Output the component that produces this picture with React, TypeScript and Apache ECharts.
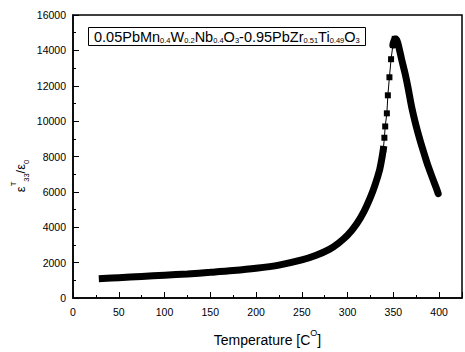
import React, { useEffect, useRef } from "react";
import * as echarts from "echarts";

// Temperature (°C) and permittivity readings, low-temperature thick section
const lowT = [32, 50, 75, 100, 125, 150, 175, 200, 225, 250, 265, 280, 290, 300, 310, 318, 325, 330, 335, 337.3, 339];
const lowE = [1100, 1150, 1220, 1290, 1360, 1450, 1550, 1680, 1860, 2150, 2400, 2750, 3100, 3550, 4200, 4900, 5700, 6400, 7250, 7850, 8400];
// sparse points on the steep rise
const riseT = [339, 340.2, 341.1, 342.9, 344, 345.7, 347.5, 349.5, 351.5];
const riseE = [8400, 9060, 9700, 10440, 11460, 12480, 13500, 14300, 14650];
// descending part above the peak
const fallT = [349.5, 351.5, 353, 355, 359, 363, 366, 370, 375, 379, 384, 388, 393, 397, 399];
const fallE = [14300, 14650, 14650, 14400, 13500, 12650, 11900, 10800, 9700, 8950, 8100, 7450, 6750, 6200, 5900];

const xTicks = [0, 50, 100, 150, 200, 250, 300, 350, 400];

const pair = (xs: number[], ys: number[]) => xs.map((x, i) => [x, ys[i]]);

const FONT = "Liberation Sans, Arial, sans-serif";

export default function App() {
  const ref = useRef<HTMLDivElement>(null);
  useEffect(() => {
    if (!ref.current) return;
    const chart = echarts.init(ref.current, undefined, { renderer: "svg" });
    chart.setOption({
      animation: false,
      backgroundColor: "#fff",
      grid: { left: 73, right: 2, top: 15, bottom: 49, show: true, borderColor: "#000", borderWidth: 1.5 },
      title: {
        left: 88,
        top: 23,
        padding: [2, 6, 2, 6],
        borderColor: "#000",
        borderWidth: 1,
        text: "{n|0.05PbMn}{s|0.4}{n|W}{s|0.2}{n|Nb}{s|0.4}{n|O}{s|3}{n|-0.95PbZr}{s|0.51}{n|Ti}{s|0.49}{n|O}{s|3}",
        textStyle: {
          fontWeight: "normal",
          rich: {
            n: { fontSize: 14.5, fontWeight: "normal", fontFamily: FONT, color: "#000", verticalAlign: "bottom", lineHeight: 19 },
            s: { fontSize: 7.5, fontWeight: "normal", fontFamily: FONT, color: "#000", verticalAlign: "bottom", lineHeight: 14 },
          },
        },
      },
      xAxis: {
        type: "value",
        min: 0,
        max: 425,
        interval: 50,
        name: "{n|Temperature [C}{p|O}{n|]}",
        nameLocation: "middle",
        nameGap: 30,
        nameTextStyle: {
          rich: {
            n: { fontSize: 14, fontFamily: FONT, color: "#000", verticalAlign: "bottom", lineHeight: 18 },
            p: { fontSize: 9, fontFamily: FONT, color: "#000", verticalAlign: "top", lineHeight: 19 },
          },
        },
        axisLine: { show: true, lineStyle: { color: "#000", width: 1.5 } },
        axisTick: { show: true, inside: true, length: 6, lineStyle: { color: "#000" } },
        minorTick: { show: true, splitNumber: 2, length: 3, lineStyle: { color: "#000" } },
        axisLabel: {
          color: "#000",
          fontSize: 10.5,
          fontFamily: FONT,
          margin: 8,
          formatter: (v: number) => (xTicks.includes(v) ? String(v) : ""),
        },
        splitLine: { show: false },
      },
      yAxis: {
        type: "value",
        min: 0,
        max: 16000,
        interval: 2000,
        axisLine: { show: true, lineStyle: { color: "#000", width: 1.5 } },
        axisTick: { show: true, inside: true, length: 6, lineStyle: { color: "#000" } },
        minorTick: { show: true, splitNumber: 2, length: 3, lineStyle: { color: "#000" } },
        axisLabel: { color: "#000", fontSize: 10.5, fontFamily: FONT, margin: 7, formatter: (v: number) => String(v) },
        splitLine: { show: false },
      },
      graphic: [
        {
          type: "text",
          x: 20,
          y: 176,
          rotation: Math.PI / 2,
          style: {
            text: "{e|ε}{p|T}{b|33}{e|/ε}{b|0}",
            align: "center",
            verticalAlign: "middle",
            rich: {
              e: { fontSize: 13, fontFamily: FONT, fill: "#000", verticalAlign: "middle", lineHeight: 17 },
              p: { fontSize: 7.5, fontFamily: FONT, fill: "#000", verticalAlign: "top", lineHeight: 21 },
              b: { fontSize: 7.5, fontFamily: FONT, fill: "#000", verticalAlign: "bottom", lineHeight: 12 },
            },
          },
        },
      ],
      series: [
        {
          type: "line",
          data: pair(lowT, lowE),
          showSymbol: false,
          smooth: 0.3,
          lineStyle: { color: "#000", width: 7, cap: "square" },
        },
        {
          type: "line",
          data: pair(riseT, riseE),
          symbol: "rect",
          symbolSize: 6,
          itemStyle: { color: "#000" },
          lineStyle: { color: "#000", width: 1 },
        },
        {
          type: "line",
          data: pair(fallT, fallE),
          showSymbol: false,
          smooth: 0.3,
          lineStyle: { color: "#000", width: 7, cap: "round", join: "round" },
        },
      ],
    });
    return () => chart.dispose();
  }, []);
  return <div ref={ref} style={{ width: 465, height: 352, position: "absolute", left: 0, top: 0 }} />;
}
